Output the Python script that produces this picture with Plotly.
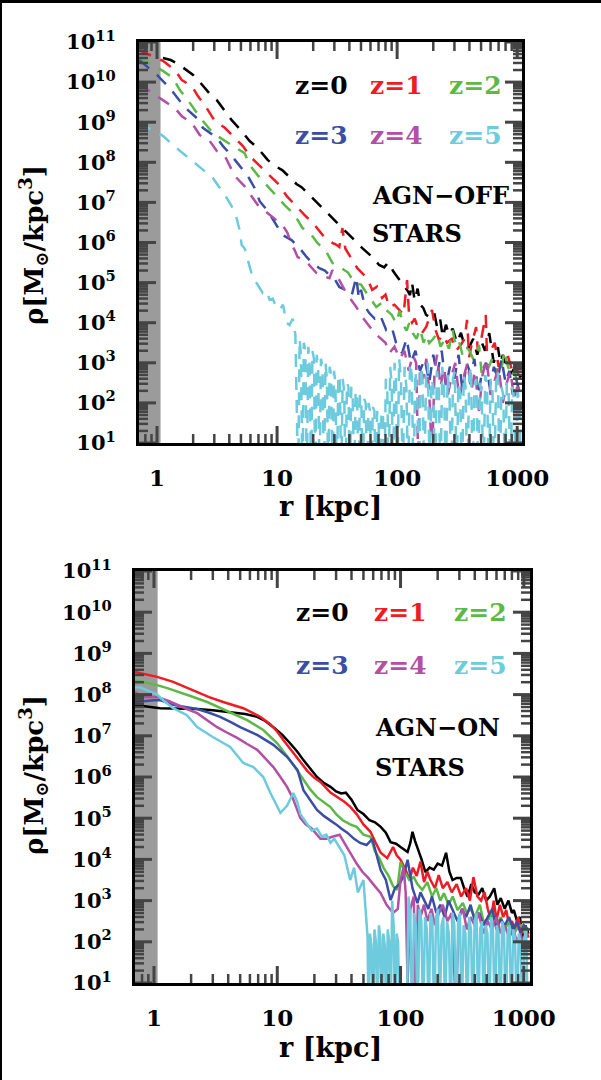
import numpy as np
import plotly.graph_objects as go

W, H = 601, 1080

# ---------------- data (log10 of density) ----------------
# AGN-OFF (top panel, dashed)
off_r_z0 = [1.12, 1.3, 1.5, 1.77, 2.0, 2.2, 2.5, 2.8, 3.15, 3.67,
            4.19, 5.07, 5.91, 6.89, 8.34, 9.5, 11.1, 12.7, 14.5, 16,
            17.9, 21.7, 25.8, 31.2, 35, 42.3, 51.3, 62, 70.8, 78,
            84, 88, 92, 97, 103, 110, 116, 122, 128, 133,
            140, 148, 156, 165, 174, 186, 203, 215, 228, 240,
            255, 270, 290, 315, 340, 370, 398, 430, 465, 500,
            540, 585, 638, 690, 725, 760, 795, 850, 900, 960,
            1023, 1090]
off_lr_z0 = [10.6, 10.55, 10.45, 10.3, 10.18, 10.05, 9.85, 9.68, 9.55, 9.28,
             9.05, 8.78, 8.53, 8.36, 8.06, 7.92, 7.8, 7.63, 7.46, 7.38,
             7.23, 6.99, 6.76, 6.51, 6.36, 6.11, 5.86, 5.64, 5.44, 5.38,
             5.5, 5.45, 5.3, 5.2, 5.1, 4.98, 4.89, 4.8, 4.69, 5.0,
             4.55, 4.85, 4.45, 4.37, 4.2, 4.14, 4.27, 3.9, 4.1, 3.64,
             3.95, 3.7, 3.85, 3.5, 3.75, 3.35, 3.39, 3.6, 3.2, 3.55,
             3.3, 3.74, 3.0, 3.39, 3.0, 3.2, 2.95, 2.8, 2.75, 2.9,
             2.6, 2.7]

off_r_z1 = [0.71, 0.8, 0.91, 1.0, 1.12, 1.25, 1.41, 1.61, 1.95, 2.19,
            2.5, 3.03, 3.67, 4.44, 5.17, 6.14, 7.16, 8.67, 10.5, 12,
            14, 16.9, 20.5, 23.9, 28.9, 31, 33, 35, 37, 42.3,
            46.6, 56.3, 62, 68, 75, 80, 86, 95, 105, 113,
            121, 126, 133, 140, 148, 161, 175, 195, 210, 223,
            240, 260, 285, 310, 340, 365, 382, 398, 420, 455,
            470, 500, 547, 560, 600, 650, 700, 776, 830, 900,
            960, 1023]
off_lr_z1 = [10.8, 10.72, 10.65, 10.6, 10.53, 10.42, 10.3, 10.05, 9.9, 9.65,
             9.43, 9.03, 8.86, 8.61, 8.41, 8.11, 7.91, 7.68, 7.43, 7.16,
             6.94, 6.69, 6.44, 6.19, 5.99, 5.95, 5.89, 6.36, 5.85, 5.56,
             5.36, 5.11, 4.82, 4.9, 4.62, 4.7, 4.39, 4.45, 4.3, 4.2,
             5.06, 4.14, 4.0, 4.1, 3.9, 3.74, 3.9, 4.32, 3.8, 3.57,
             3.7, 3.5, 3.6, 3.3, 3.45, 3.6, 4.07, 3.14, 3.5, 3.89,
             3.3, 3.57, 4.19, 3.24, 3.3, 3.5, 2.9, 3.07, 3.2, 2.85,
             3.0, 2.7]

off_r_z2 = [0.71, 0.8, 0.93, 1.0, 1.12, 1.36, 1.55, 1.81, 2.15, 2.41,
            2.92, 3.53, 4.27, 5.37, 5.91, 6.89, 8.34, 9.9, 11.5, 14,
            16.3, 19.3, 21.7, 25.8, 28.9, 34.3, 39, 44, 50, 58.6,
            67, 75, 81, 90, 98, 105, 112, 120, 126, 135,
            145, 155, 166, 175, 185, 200, 215, 230, 250, 270,
            290, 309, 330, 350, 375, 400, 430, 455, 480, 505,
            540, 580, 620, 670, 720, 780, 840, 895, 950, 1000,
            1060]
off_lr_z2 = [10.62, 10.52, 10.43, 10.36, 10.28, 10.10, 9.80, 9.55, 9.23, 9.03,
             8.73, 8.56, 8.41, 8.23, 7.93, 7.68, 7.41, 7.16, 6.94, 6.69,
             6.36, 6.19, 5.99, 5.76, 5.49, 5.36, 5.25, 5.0, 4.95, 4.64,
             4.39, 4.5, 4.32, 4.2, 3.99, 4.3, 3.95, 3.8, 3.99, 3.74,
             3.6, 3.85, 3.5, 3.7, 3.49, 3.6, 3.74, 3.4, 3.6, 3.35,
             3.82, 3.39, 3.5, 3.2, 3.4, 3.3, 3.1, 3.14, 3.45, 2.75,
             3.0, 2.9, 3.1, 2.8, 2.6, 3.3, 2.9, 2.65, 2.8, 2.5,
             2.4]

off_r_z3 = [0.71, 0.8, 0.91, 1.0, 1.1, 1.28, 1.55, 1.81, 2.15, 2.41,
            3.15, 3.53, 4.19, 4.89, 5.69, 6.5, 7.16, 8.34, 9.9, 11.1,
            13.2, 15.4, 17.6, 19.7, 22.5, 25, 27.3, 30, 33, 38,
            42, 45.7, 48, 50, 54, 58.6, 65, 72, 81, 90,
            98, 110, 120, 130, 142, 155, 170, 185, 200, 215,
            235, 255, 275, 300, 325, 350, 380, 410, 440, 475,
            510, 550, 590, 640, 690, 740, 800, 860, 920, 980,
            1040]
off_lr_z3 = [10.55, 10.42, 10.3, 10.18, 10.05, 9.85, 9.53, 9.30, 9.10, 8.86,
             8.61, 8.41, 8.16, 7.91, 7.66, 7.36, 7.03, 6.79, 6.44, 6.19,
             6.06, 5.86, 5.64, 5.49, 5.36, 5.3, 5.19, 5.1, 4.89, 4.8,
             4.7, 5.14, 4.6, 4.82, 4.4, 4.24, 4.1, 4.2, 3.82, 3.9,
             3.5, 3.24, 3.6, 3.0, 3.3, 2.8, 3.1, 2.5, 3.2, 2.7,
             3.3, 2.4, 2.9, 2.6, 3.2, 2.3, 3.0, 2.7, 3.1, 2.2,
             2.8, 3.0, 2.4, 2.9, 2.6, 3.1, 2.5, 2.8, 2.2, 2.6,
             2.3]

off_r_z4 = [0.71, 0.8, 0.91, 1.0, 1.12, 1.41, 1.61, 1.95, 2.27, 2.75,
            3.15, 3.67, 4.44, 5.37, 6.89, 8.67, 11.1, 12.2, 13, 14,
            14.8, 17.9, 21.3, 25, 27.3, 28.9, 33, 37.7, 45.7, 51.3,
            62, 70.8, 80, 86, 95, 105, 115, 125, 135, 144,
            150, 155, 165, 175, 185, 195, 205, 215, 230, 245,
            265, 285, 305, 330, 355, 385, 415, 445, 480, 515,
            555, 600, 650, 700, 760, 820, 880, 940, 1000, 1060]
off_lr_z4 = [9.95, 9.85, 9.73, 9.65, 9.55, 9.35, 9.15, 8.98, 8.68, 8.53,
             8.28, 8.16, 7.66, 7.40, 6.94, 6.69, 6.44, 6.24, 6.0, 5.81,
             5.64, 5.49, 5.24, 5.15, 5.11, 5.31, 5.06, 4.74, 4.39, 4.14,
             3.82, 3.64, 3.5, 3.24, 3.4, 3.1, 3.3, 2.8, 3.2, 3.0,
             0.5, 2.9, 2.6, 3.1, 2.3, 0.5, 2.8, 3.2, 2.4, 2.9,
             2.2, 2.7, 3.0, 2.1, 2.6, 3.0, 2.3, 2.8, 1.8, 2.7,
             3.1, 2.2, 2.6, 2.9, 2.0, 2.5, 2.8, 2.1, 2.4, 2.3]

off_r_z5 = [0.71, 0.8, 0.91, 1.0, 1.12, 1.36, 1.64, 1.99, 2.41, 2.92,
            3.33, 3.81, 4.27, 4.6, 4.89, 5.07, 5.37, 5.6, 5.91, 6.25,
            6.75, 7.6, 8.2, 8.67, 9.2, 9.8, 10.5, 11.2, 12, 12.7,
            13.5, 14.2,
            15.0, 15.4, 15.8, 16.3, 16.7, 17.2, 17.7, 18.2, 18.7, 19.2,
            19.7, 20.3, 20.8, 21.4, 22.0, 22.6, 23.2, 23.9, 24.6, 25.3,
            26.0, 26.7, 27.4, 28.2, 29.0, 29.8, 30.6, 31.5, 32.4, 33.3,
            34.2, 35.2, 36.2, 37.2, 38.2, 39.3, 40.4, 41.5, 42.7, 43.9,
            45.1, 46.4, 47.7, 49.0, 50.4, 51.8, 53.2, 54.7, 56.2, 57.8,
            59.4, 61.1, 62.8, 64.6, 66.4, 68.2, 70.1, 72.1, 74.1, 76.2,
            78.3, 80.5, 82.8, 85.1, 87.5, 90.0, 92.5, 95.1, 97.8,
            100.5, 104, 107.7, 111.5, 115.4, 119.4, 123.6, 127.9, 132.4, 137,
            141.8, 146.8, 151.9, 157.2, 162.7, 168.4, 174.3, 180.4, 186.7, 193.3,
            200, 207, 214.3, 221.8, 229.5, 237.6, 245.9, 254.5, 263.4, 272.6,
            282.2, 292, 302.3, 312.8, 323.8, 335.1, 346.8, 359, 371.5, 384.5,
            398, 412, 426, 441, 457, 473, 489, 506, 524, 542,
            561, 581, 601, 622, 644, 667, 690, 714, 739, 765,
            792, 820, 848, 878, 909, 941, 974, 1008, 1043, 1080]
off_lr_z5 = [8.98, 8.9, 8.81, 8.75, 8.66, 8.43, 8.23, 8.03, 7.81, 7.61,
             7.36, 7.11, 6.86, 6.61, 6.29, 5.94, 5.85, 5.64, 5.44, 5.14,
             4.99, 4.74, 4.8, 4.57, 4.6, 4.4, 4.32, 4.45, 4.0, 3.94,
             4.1, 3.7,
             0.0, 3.6, 3.2, 0.0, 3.5, 3.3, 0.0, 3.4, 2.9, 0.0,
             3.3, 3.1, 0.0, 3.2, 2.8, 0.0, 3.1, 2.9, 0.0, 3.0,
             2.6, 0.0, 2.9, 2.7, 0.0, 2.8, 2.5, 0.0, 2.7, 2.6,
             0.0, 2.6, 2.3, 0.0, 2.5, 2.4, 0.0, 2.4, 2.1, 0.0,
             2.3, 2.2, 0.0, 2.2, 1.9, 0.0, 2.1, 2.0, 0.0, 2.0,
             1.8, 0.0, 1.9, 1.8, 0.0, 1.8, 1.6, 0.0, 1.8, 1.7,
             0.0, 2.6, 2.3, 0.0, 2.9, 2.5, 0.0, 3.0, 2.6,
             0.0, 3.1, 2.6, 0.0, 2.9, 2.4, 0.0, 3.0, 2.7, 0.0,
             2.8, 2.3, 0.0, 2.9, 2.6, 0.0, 2.7, 3.0, 0.0, 2.6,
             2.4, 0.0, 2.8, 2.5, 0.0, 2.9, 2.4, 0.0, 2.7, 2.3,
             0.0, 2.6, 2.8, 0.0, 2.5, 2.2, 0.0, 2.7, 2.4, 0.0,
             2.6, 2.9, 0.0, 2.4, 2.6, 0.0, 2.5, 2.2, 0.0, 2.7,
             2.4, 0.0, 2.6, 2.3, 0.0, 2.5, 2.8, 0.0, 2.4, 2.2,
             0.0, 2.5, 2.3, 0.0, 2.4, 2.1, 0.0, 2.3, 2.0, 0.0]

# AGN-ON (bottom panel, solid)
on_r_z0 = [0.7, 0.85, 1.0, 1.12, 1.4, 1.8, 2.24, 3.0, 4.15, 5.5,
           6.87, 8.0, 9.3, 11, 12.7, 14.5, 16.3, 18.5, 21, 24,
           27, 30, 33, 36, 40, 44.7, 50, 56, 62, 69,
           76, 83, 92, 100, 108, 114, 120, 125, 131, 137,
           148, 159, 172, 186, 200, 217, 234, 249, 264, 285,
           308, 328, 350, 375, 400, 430, 460, 495, 530, 575,
           610, 650, 700, 750, 800, 830, 880, 930, 980, 1030,
           1090]
on_lr_z0 = [7.75, 7.72, 7.69, 7.67, 7.66, 7.65, 7.65, 7.62, 7.58, 7.53,
            7.46, 7.36, 7.21, 7.02, 6.82, 6.62, 6.41, 6.2, 6.0, 5.85,
            5.76, 5.65, 5.6, 5.62, 5.45, 5.2, 5.1, 4.95, 4.9, 4.79,
            4.65, 4.42, 4.38, 4.3, 4.22, 4.18, 4.4, 4.67, 4.45, 4.30,
            4.0, 3.69, 3.8, 3.75, 3.9, 3.85, 4.16, 3.7, 3.5, 3.55,
            3.55, 3.3, 3.09, 3.4, 3.2, 3.15, 3.3, 3.0, 3.1, 3.3,
            2.9, 3.06, 2.8, 3.0, 2.7, 2.77, 2.5, 2.6, 2.05, 2.4,
            2.2]

on_r_z1 = [0.7, 0.85, 1.06, 1.43, 1.8, 2.24, 2.8, 3.64, 4.5, 5.3,
           6.2, 7.28, 8.77, 10, 11.2, 12.8, 14.6, 17.5, 20, 22.4,
           27, 31, 35, 39, 44, 50, 57, 63, 69, 78,
           87, 93, 100, 110, 118, 126, 135, 145, 155, 165,
           175, 190, 204, 220, 240, 260, 285, 310, 340, 365,
           390, 420, 450, 480, 510, 540, 570, 600, 640, 680,
           720, 760, 800, 850, 900, 960, 1020, 1090]
on_lr_z1 = [8.55, 8.5, 8.43, 8.31, 8.18, 8.06, 7.94, 7.82, 7.74, 7.67,
            7.57, 7.46, 7.28, 7.1, 6.9, 6.68, 6.45, 6.15, 5.98, 5.88,
            5.62, 5.5, 5.4, 5.28, 5.1, 4.85, 4.67, 4.4, 4.16, 4.03,
            4.30, 4.1, 3.99, 3.75, 3.5, 3.8, 3.6, 3.95, 3.45, 3.7,
            3.5, 3.3, 3.62, 3.3, 3.45, 3.2, 3.4, 3.1, 3.3, 3.0,
            3.57, 3.1, 3.0, 3.2, 2.8, 2.53, 3.0, 2.53, 2.9, 2.6,
            2.77, 2.4, 2.5, 2.3, 2.6, 2.2, 2.4, 2.1]

on_r_z2 = [0.7, 0.85, 1.06, 1.3, 1.63, 2.0, 2.7, 3.3, 4.15, 5.7,
           7.7, 10, 12.7, 14.5, 16.3, 18.5, 21, 24, 27, 30,
           34, 39, 44, 50, 57, 62, 68, 73, 80, 87,
           94, 100, 108, 118, 128, 137, 150, 165, 180, 195,
           210, 225, 245, 265, 290, 320, 345, 370, 400, 440,
           470, 510, 550, 600, 650, 700, 760, 830, 900, 960,
           1020, 1070]
on_lr_z2 = [8.35, 8.3, 8.23, 8.15, 8.06, 7.96, 7.82, 7.7, 7.58, 7.38,
            7.14, 6.82, 6.41, 6.15, 5.93, 5.7, 5.51, 5.38, 5.27, 5.1,
            4.95, 4.85, 4.79, 4.6, 4.55, 4.2, 4.0, 3.79, 3.6, 3.35,
            3.26, 3.94, 3.7, 3.5, 3.57, 3.4, 3.26, 3.45, 3.1, 3.3,
            3.0, 3.18, 2.9, 3.1, 2.77, 2.94, 2.7, 2.8, 2.6, 2.9,
            2.5, 2.53, 2.7, 2.4, 2.6, 2.3, 2.5, 2.2, 2.36, 2.4,
            2.2, 2.36]

on_r_z3 = [0.7, 0.8, 0.92, 1.0, 1.12, 1.43, 1.8, 2.24, 2.8, 3.44,
           4.2, 5.0, 6.87, 9.3, 12, 14.6, 16.3, 18.5, 21, 24,
           27, 30, 33, 37, 42, 47, 53, 59, 64, 69,
           76, 83, 90, 98, 106, 114, 125, 137, 145, 155,
           168, 180, 195, 210, 228, 245, 265, 290, 315, 340,
           370, 400, 435, 470, 510, 555, 600, 650, 700, 760,
           820, 880, 940, 1000, 1070]
on_lr_z3 = [7.82, 7.84, 7.85, 7.86, 7.87, 7.75, 7.7, 7.65, 7.56, 7.46,
            7.33, 7.21, 7.02, 6.78, 6.49, 6.17, 5.68, 5.45, 5.2, 5.05,
            4.95, 4.85, 4.75, 4.65, 4.5, 4.4, 4.35, 4.5, 4.1, 3.74,
            3.5, 3.01, 3.3, 3.4, 3.6, 3.99, 3.3, 2.94, 3.2, 3.0,
            2.8, 3.1, 2.7, 2.9, 2.6, 3.0, 2.75, 2.5, 2.8, 2.6,
            2.9, 2.5, 2.7, 2.4, 2.6, 2.8, 2.3, 2.55, 2.4, 2.6,
            2.3, 2.5, 2.2, 2.4, 2.3]

on_r_z4 = [0.7, 0.81, 0.93, 1.06, 1.3, 1.54, 1.85, 2.24, 2.7, 3.25,
           3.9, 4.73, 5.7, 6.87, 8.0, 9.3, 10.6, 12, 13.3, 14.6,
           15.4, 17, 19, 22.4, 25, 28, 32, 35, 39, 44,
           49, 54, 60, 69, 77, 87, 95, 100, 106, 110,
           114, 120, 128, 133, 138, 145, 155, 165, 178, 190,
           205, 220, 240, 260, 280, 300, 320, 345, 370, 400,
           430, 470, 510, 550, 600, 650, 700, 760, 820, 880,
           940, 1000, 1070]
on_lr_z4 = [8.06, 7.94, 7.94, 7.94, 7.85, 7.75, 7.65, 7.55, 7.38, 7.21,
            7.08, 6.95, 6.8, 6.66, 6.45, 6.24, 6.0, 5.76, 5.5, 5.2,
            5.0, 4.85, 4.75, 4.5, 4.5, 4.55, 4.6, 4.4, 4.16, 3.9,
            3.7, 3.57, 3.4, 3.18, 2.9, 2.7, 2.8, 3.5, 3.82, 3.2,
            1.0, 2.8, 3.1, 0.5, 2.9, 2.6, 2.9, 2.5, 2.8, 2.4,
            2.7, 2.9, 2.5, 2.7, 0.5, 2.6, 2.8, 2.3, 2.6, 2.4,
            2.7, 2.2, 2.5, 2.3, 2.6, 2.2, 2.4, 2.1, 2.3, 2.0,
            2.2, 1.9, 2.0]

on_r_z5 = [0.7, 0.78, 0.85, 0.95, 1.06, 1.2, 1.43, 1.85, 2.24, 3.0,
           4.15, 5.3, 6.4, 7.7, 8.8, 10.6, 12, 13.5, 14.5, 15.4,
           17, 19, 21, 23, 25, 27, 29, 32, 35, 39,
           42, 45, 50, 54,
           55, 56.5, 58.1, 59.7, 61.4, 63.1, 64.9, 66.7, 68.6, 70.5,
           72.5, 74.5, 76.6, 78.7, 80.9, 83.2, 85.5, 87.9, 90.4, 92.9,
           95.5, 98.2,
           101, 104.5, 108, 112, 116, 120, 124, 128.5, 133, 137.5,
           142.5, 147.5, 152.5, 158, 163.5, 169, 175, 181, 187.5, 194,
           201, 208, 215, 222.5, 230, 238, 246.5, 255, 264, 273,
           283, 293, 303, 313.5, 324.5, 336, 348, 360, 372.5, 385.5,
           399, 413, 427, 442, 457.5, 473.5, 490, 507, 525, 543,
           562, 582, 602, 623, 645, 667, 690, 714, 739, 765,
           792, 820, 848, 878, 909, 941, 974, 1008, 1043, 1080]
on_lr_z5 = [8.18, 8.17, 8.12, 8.06, 8.0, 7.85, 7.67, 7.5, 7.21, 6.97,
            6.73, 6.34, 6.24, 6.0, 5.61, 5.13, 5.3, 5.61, 5.4, 5.1,
            4.9, 4.7, 4.75, 4.55, 4.6, 4.4, 4.5, 4.3, 4.1, 3.5,
            3.8, 3.2, 3.5, 2.12,
            0.0, 2.2, 1.9, 0.0, 2.3, 2.0, 0.0, 2.4, 2.1, 0.0,
            2.2, 1.9, 0.0, 2.3, 2.0, 0.0, 3.0, 2.4, 0.0, 2.2,
            2.0, 0.0,
            0.0, 0.0, 0.0, 0.0, 3.1, 2.6, 0.0, 2.7, 2.4, 0.0,
            2.8, 2.5, 0.0, 2.6, 2.3, 0.0, 2.7, 2.5, 0.0, 2.6,
            2.8, 0.0, 2.4, 2.6, 0.0, 2.5, 2.2, 0.0, 2.7, 2.4,
            0.0, 2.5, 2.7, 0.0, 2.4, 2.2, 0.0, 2.6, 2.3, 0.0,
            2.5, 2.7, 0.0, 2.3, 2.5, 0.0, 2.4, 2.2, 0.0, 2.6,
            2.3, 0.0, 2.4, 2.2, 0.0, 2.5, 2.3, 0.0, 2.2, 2.4,
            0.0, 2.3, 2.1, 0.0, 2.2, 2.0, 0.0, 2.1, 2.3, 0.0]

labels = ["z=0", "z=1", "z=2", "z=3", "z=4", "z=5"]
colors = ["#000000", "#ee1c24", "#5cb946", "#3b4ea5", "#b34fa5", "#6dcbdd"]
x_ticks = [1, 10, 100, 1000]
x_ticktext = ["1", "10", "100", "1000"]
y_exps = list(range(1, 12))
gray_r_max = 1.07
TICK_COLOR = "#444444"

off_r = [off_r_z0, off_r_z1, off_r_z2, off_r_z3, off_r_z4, off_r_z5]
off_lr = [off_lr_z0, off_lr_z1, off_lr_z2, off_lr_z3, off_lr_z4, off_lr_z5]
on_r = [on_r_z0, on_r_z1, on_r_z2, on_r_z3, on_r_z4, on_r_z5]
on_lr = [on_lr_z0, on_lr_z1, on_lr_z2, on_lr_z3, on_lr_z4, on_lr_z5]
for a, b in zip(off_r + on_r, off_lr + on_lr):
    assert len(a) == len(b), (len(a), len(b))

FONT = "DejaVu Serif"

top_px = (139, 522, 42, 443)
bot_px = (135, 530, 571, 983)
top_xr = [-0.15, 3.04]
bot_xr = [-0.154, 3.05]
y_rng = [1, 11]

y_major = [10 ** k for k in y_exps]
x_minor = [0.8, 0.9] + [m * 10 ** k for k in range(0, 3) for m in range(2, 10)]
y_minor = [m * 10 ** k for k in range(1, 11) for m in range(2, 10)]

fig = go.Figure()
for i in range(6):
    fig.add_trace(go.Scatter(x=off_r[i], y=10 ** np.array(off_lr[i]), mode="lines",
                             line=dict(color=colors[i], width=2.5, dash="13px,10px"),
                             xaxis="x", yaxis="y", showlegend=False, hoverinfo="skip"))
for i in range(6):
    fig.add_trace(go.Scatter(x=on_r[i], y=10 ** np.array(on_lr[i]), mode="lines",
                             line=dict(color=colors[i], width=2.5),
                             xaxis="x2", yaxis="y2", showlegend=False, hoverinfo="skip"))

# inward tick marks on all four sides, one short line per tick on each subplot's axes
MAJ, MIN = 17, 9
panels = (("x", "y", top_px, top_xr), ("x2", "y2", bot_px, bot_xr))
for xa, ya, (x0p, x1p, y0p, y1p), xr in panels:
    dx = (xr[1] - xr[0]) / (x1p - x0p)
    dy = (y_rng[1] - y_rng[0]) / (y1p - y0p)
    for ln, lw, xv, yv in ((MAJ, 3, x_ticks, y_major), (MIN, 2.5, x_minor, y_minor)):
        segs = []
        for v in xv:
            segs.append(([v, v], [10 ** y_rng[0], 10 ** (y_rng[0] + ln * dy)]))
            segs.append(([v, v], [10 ** y_rng[1], 10 ** (y_rng[1] - ln * dy)]))
        for v in yv:
            segs.append(([10 ** xr[0], 10 ** (xr[0] + ln * dx)], [v, v]))
            segs.append(([10 ** xr[1], 10 ** (xr[1] - ln * dx)], [v, v]))
        for sx, sy in segs:
            fig.add_trace(go.Scatter(x=sx, y=sy, mode="lines",
                                     line=dict(color=TICK_COLOR, width=lw),
                                     xaxis=xa, yaxis=ya, showlegend=False, hoverinfo="skip",
                                     cliponaxis=False))

def xax(domain, rng, anchor):
    return dict(type="log", domain=domain, range=rng, anchor=anchor, automargin=False,
                showline=True, linewidth=3, linecolor="black", mirror=True,
                ticks="", tickmode="array", tickvals=x_ticks, ticktext=x_ticktext,
                tickfont=dict(family=FONT, size=23, color="black", weight="bold"),
                ticklabelstandoff=12, showgrid=False, zeroline=False)

def yax(domain, anchor):
    return dict(type="log", domain=domain, range=y_rng, anchor=anchor, automargin=False,
                showline=True, linewidth=3, linecolor="black", mirror=True,
                ticks="", tickmode="array", tickvals=y_major,
                ticktext=["10<sup>%d</sup>" % k for k in y_exps],
                tickfont=dict(family=FONT, size=21, color="black", weight="bold"),
                ticklabelstandoff=16, showgrid=False, zeroline=False)

top_x = [top_px[0] / W, top_px[1] / W]
top_y = [1 - top_px[3] / H, 1 - top_px[2] / H]
bot_x = [bot_px[0] / W, bot_px[1] / W]
bot_y = [1 - bot_px[3] / H, 1 - bot_px[2] / H]

fig.update_layout(
    width=W, height=H, margin=dict(l=0, r=0, t=0, b=0, autoexpand=False),
    paper_bgcolor="white", plot_bgcolor="white",
    xaxis=xax(top_x, top_xr, "y"),
    yaxis=yax(top_y, "x"),
    xaxis2=xax(bot_x, bot_xr, "y2"),
    yaxis2=yax(bot_y, "x2"),
    showlegend=False,
)

shapes = []
for xr_, yr_ in (("x", "y domain"), ("x2", "y2 domain")):
    shapes.append(dict(type="rect", xref=xr_, yref=yr_, x0=0.5, x1=gray_r_max, y0=0, y1=1,
                       fillcolor="#9b9b9b", line=dict(width=0), layer="below"))
# black frame of the picture (top and left edges)
shapes.append(dict(type="rect", xref="paper", yref="paper", x0=0, x1=1, y0=1 - 3 / H, y1=1,
                   fillcolor="black", line=dict(width=0)))
shapes.append(dict(type="rect", xref="paper", yref="paper", x0=0, x1=2 / W, y0=0, y1=1,
                   fillcolor="black", line=dict(width=0)))
fig.update_layout(shapes=shapes)

ann = []
def txt(x, y, s, size=26, color="black", xanchor="center", angle=0):
    ann.append(dict(x=x / W, y=1 - y / H, xref="paper", yref="paper", text=s, showarrow=False,
                    xanchor=xanchor, yanchor="middle", textangle=angle,
                    font=dict(family=FONT, size=size, color=color, weight="bold")))

# legend-like labels
leg_cx = [(321, 396, 475), (322, 400, 480)]
leg_y = [(85, 135), (613, 665)]
for p in range(2):
    for i in range(6):
        row, col = divmod(i, 3)
        txt(leg_cx[p][col], leg_y[p][row], labels[i], size=25, color=colors[i])
txt(370, 195, "AGN−OFF", size=24, xanchor="left")
txt(370, 233, "STARS", size=24, xanchor="left")
txt(373, 727, "AGN−ON", size=24, xanchor="left")
txt(373, 767, "STARS", size=24, xanchor="left")
# axis titles
ytitle = "ρ[M<sub>⊙</sub>/kpc<sup>3</sup>]"
txt(33, 245, ytitle, size=26, angle=-90)
txt(33, 775, ytitle, size=26, angle=-90)
txt(330, 506, "r [kpc]", size=27)
txt(330, 1047, "r [kpc]", size=27)
fig.update_layout(annotations=ann)

fig.write_html("out.html")
